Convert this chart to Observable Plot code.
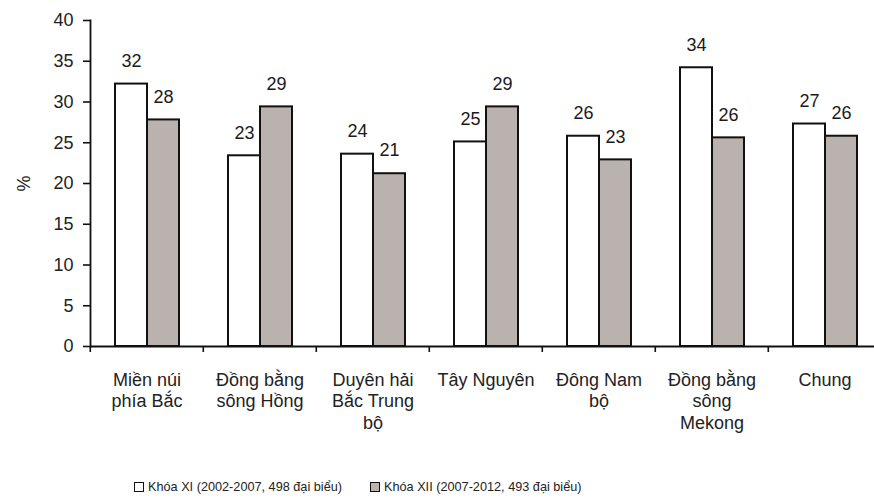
<!DOCTYPE html>
<html><head><meta charset="utf-8">
<script src="https://cdn.jsdelivr.net/npm/d3@7"></script>
<script src="https://cdn.jsdelivr.net/npm/@observablehq/plot@0.6"></script>
<style>
body{margin:0;background:#fff;font-family:"Liberation Sans",Arial,sans-serif;}
#wrap{position:relative;width:874px;height:501px;overflow:hidden;}
#chart svg{display:block;}
#legend{position:absolute;left:134px;top:479px;font-size:12.7px;color:#222;display:flex;line-height:16px;}
.item{display:flex;align-items:center;}
.item + .item{margin-left:28px;}
.sw{width:8px;height:8px;border:1.5px solid #111;margin-right:4px;}
</style></head><body><div id="wrap"><div id="chart"></div><div id="legend"></div></div>
<script>
const regions = ["Miền núi phía Bắc","Đồng bằng sông Hồng","Duyên hải Bắc Trung bộ","Tây Nguyên","Đông Nam bộ","Đồng bằng sông Mekong","Chung"];
const regionLabels = ["Miền núi\nphía Bắc","Đồng bằng\nsông Hồng","Duyên hải\nBắc Trung\nbộ","Tây Nguyên","Đông Nam\nbộ","Đồng bằng\nsông\nMekong","Chung"];
const seriesKeys = ["XI","XII"];
const seriesNames = ["Khóa XI (2002-2007, 498 đại biểu)","Khóa XII (2007-2012, 493 đại biểu)"];
const khoaXI = [32.2, 23.4, 23.6, 25.1, 25.8, 34.2, 27.3];
const khoaXII = [27.8, 29.4, 21.2, 29.4, 22.9, 25.6, 25.8];
const yTicks = [0,5,10,15,20,25,30,35,40];
const colors = ["#ffffff","#bab2af"];

const data = regions.flatMap((r,i)=>[
  {region:r, series:"XI", value:khoaXI[i]},
  {region:r, series:"XII", value:khoaXII[i]}
]);
const labelOf = new Map(regions.map((r,i)=>[r, regionLabels[i]]));

const W=874, H=450, mL=88, mR=-8, mT=20, mB=104;
const step=(W-mL-mR)/regions.length;

const chart = Plot.plot({
  width: W, height: H,
  marginLeft: mL, marginRight: mR, marginTop: mT, marginBottom: mB,
  style: {fontFamily: '"Liberation Sans", Arial, sans-serif', fontSize: "18px", color: "#111", background: "#fff"},
  fx: {domain: regions, paddingInner: 0, paddingOuter: 0, label: null},
  x: {domain: seriesKeys, paddingInner: 0, paddingOuter: 0.72, axis: null},
  y: {domain: [0,40], label: "%"},
  color: {domain: seriesKeys, range: colors},
  marks: [
    Plot.barY(data, {fx: "region", x: "series", y: "value", fill: "series", stroke: "#111", strokeWidth: 2}),
    Plot.ruleY([0], {stroke: "#111", strokeWidth: 1.8}),
    Plot.frame({anchor: "left", facetAnchor: "left", stroke: "#111", strokeWidth: 1.8}),
    Plot.axisY({ticks: yTicks, tickSize: 7, tickPadding: 10, strokeWidth: 1.6, fontSize: 18, fill: "#222", label: "%", labelAnchor: "center", labelArrow: "none", labelOffset: 73}),
    Plot.text(data, {fx: "region", x: "series", y: "value", text: d => d3.format(".0f")(d.value), dy: -23, fontSize: 18, fill: "#1a1a1a"}),
    Plot.axisFx({anchor: "bottom", tickSize: 6, tickFormat: () => "", dx: -step/2, strokeWidth: 1.6, label: null}),
    Plot.axisFx({anchor: "bottom", tickSize: 0, tickPadding: 24, fontSize: 18, lineHeight: 1.2, tickFormat: d => labelOf.get(d), label: null, fill: "#222"})
  ]
});
document.getElementById("chart").appendChild(chart);

const legend = document.getElementById("legend");
seriesNames.forEach((name,i)=>{
  const item = document.createElement("div"); item.className="item";
  const sw = document.createElement("div"); sw.className="sw"; sw.style.background=colors[i];
  const t = document.createElement("span"); t.textContent=name;
  item.appendChild(sw); item.appendChild(t); legend.appendChild(item);
});
</script></body></html>
